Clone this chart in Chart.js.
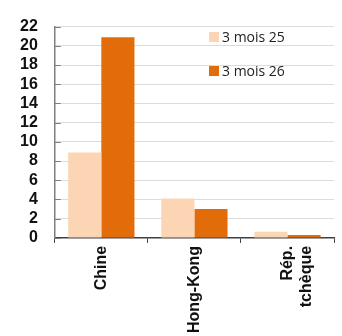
<!DOCTYPE html>
<html>
<head>
<meta charset="utf-8">
<script src="https://cdn.jsdelivr.net/npm/chart.js@4"></script>
<style>
  html, body { margin: 0; padding: 0; background: #fff; }
  #wrap { width: 342px; height: 336px; }
</style>
</head>
<body>
<div id="wrap"><canvas id="c" width="342" height="336"></canvas></div>
<script>
const categories = ['Chine', 'Hong-Kong', ['Rép.', 'tchèque']];
const seriesNames = ['3 mois 25', '3 mois 26'];
const values25 = [8.9, 4.1, 0.65];
const values26 = [20.9, 3.0, 0.3];
const colors = ['#fbd5b4', '#e36c0a'];

const fontFamily = '"Liberation Sans", Arial, sans-serif';

// legend drawn inside the plot, like the original
const innerLegend = {
  id: 'innerLegend',
  afterDraw(chart) {
    const ctx = chart.ctx;
    ctx.save();
    ctx.font = '14px "Open Sans", Lato, sans-serif';
    ctx.textBaseline = 'middle';
    chart.data.datasets.forEach((ds, i) => {
      const y = 37 + i * 34;
      ctx.fillStyle = ds.backgroundColor;
      ctx.fillRect(209, y - 5, 10, 10);
      ctx.fillStyle = '#222';
      ctx.fillText(ds.label, 222, y + 1);
    });
    ctx.restore();
  }
};

// small tick marks on the inside of the y axis
const yTicks = {
  id: 'yTicks',
  afterDatasetsDraw(chart) {
    const s = chart.scales.y;
    const ctx = chart.ctx;
    ctx.save();
    ctx.strokeStyle = '#7f7f7f';
    ctx.lineWidth = 1;
    s.ticks.forEach(t => {
      const y = Math.round(s.getPixelForValue(t.value)) + 0.5;
      ctx.beginPath();
      ctx.moveTo(s.right, y);
      ctx.lineTo(s.right + 6, y);
      ctx.stroke();
    });
    ctx.restore();
  }
};

new Chart(document.getElementById('c'), {
  type: 'bar',
  data: {
    labels: categories,
    datasets: [
      { label: seriesNames[0], data: values25, backgroundColor: colors[0] },
      { label: seriesNames[1], data: values26, backgroundColor: colors[1] }
    ]
  },
  options: {
    responsive: false,
    maintainAspectRatio: false,
    animation: false,
    layout: { padding: { top: 7, right: 8, left: 3, bottom: 0 } },
    datasets: { bar: { categoryPercentage: 0.712, barPercentage: 1.0 } },
    plugins: {
      legend: { display: false },
      tooltip: { enabled: false }
    },
    scales: {
      x: {
        grid: { offset: true, drawOnChartArea: false, tickLength: 5, color: '#404040' },
        border: { color: '#404040', width: 1.5 },
        ticks: {
          color: '#111',
          font: { family: fontFamily, size: 16, weight: 'bold' },
          minRotation: 90, maxRotation: 90, autoSkip: false, padding: 3
        }
      },
      y: {
        min: 0, max: 22,
        grid: { color: '#dcdcdc', drawTicks: false },
        border: { color: '#7f7f7f', width: 1.5 },
        ticks: {
          stepSize: 2,
          autoSkip: false,
          color: '#111',
          padding: 17,
          font: { family: fontFamily, size: 16, weight: 'bold' }
        }
      }
    }
  },
  plugins: [innerLegend, yTicks]
});
</script>
</body>
</html>
